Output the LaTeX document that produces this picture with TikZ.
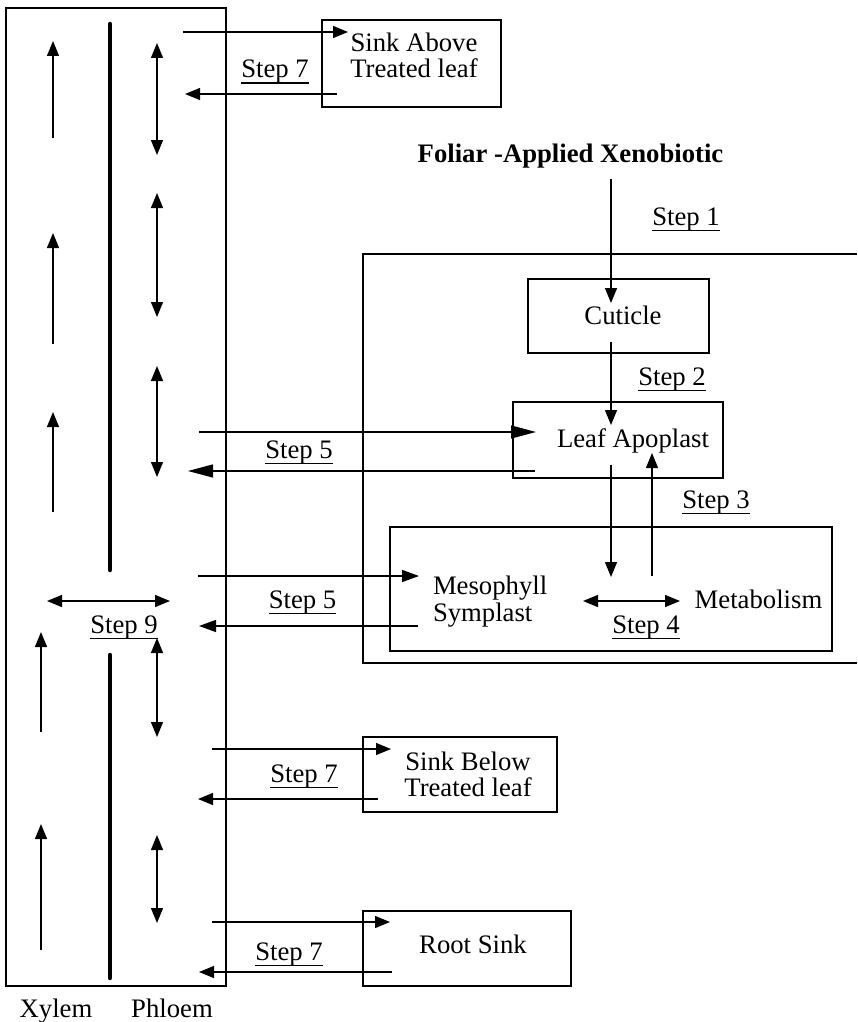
\documentclass[tikz,border=0pt]{standalone}
\usepackage{fontspec}
\setmainfont{Liberation Serif}
\usetikzlibrary{arrows.meta}
\newcommand\ulstep[1]{\setbox0\hbox{#1}\rlap{\rule[-5.8pt]{\wd0}{1.3pt}}\box0}
\begin{document}
\begin{tikzpicture}[x=1pt,y=-1pt,
  every node/.style={font=\fontsize{26.7}{27}\selectfont, inner sep=0pt, outer sep=0pt},
  box/.style={draw, line width=1.2pt},
  lbl/.style={anchor=base},
  tip/.tip={Triangle[length=15pt,width=12pt]},
  longtip/.tip={Triangle[length=25pt,width=13pt]},
  midtip/.tip={Triangle[length=17pt,width=12pt]},
  conn/.style={line width=1.3pt, -tip},
  connL/.style={line width=1.3pt, -longtip},
  connM/.style={line width=1.3pt, -midtip},
  dbl/.style={line width=1.3pt, tip-tip},
  wall/.style={line width=4.5pt, line cap=round},
  plain/.style={line width=1.2pt}]
\useasboundingbox (0,0) rectangle (857,1022);

% left transport column
\node[box, minimum width=220pt, minimum height=978pt] (col) at (116,497) {};
\coordinate (w1t) at (110,24); \coordinate (w1b) at (110,570);
\coordinate (w2t) at (110,655); \coordinate (w2b) at (110,978);
\draw[wall] (w1t) -- (w1b);
\draw[wall] (w2t) -- (w2b);

% xylem arrows
\foreach \i/\x/\a/\b in {1/53/138/41, 2/53/344/233, 3/53/512/412, 4/41/732/632, 5/41/950/824}{
  \coordinate (xs\i) at (\x,\a); \coordinate (xe\i) at (\x,\b);
  \draw[conn] (xs\i) -- (xe\i);
}
% phloem arrows
\foreach \i/\a/\b in {1/43/155, 2/193/317, 3/366/477, 4/638/737, 5/835/923}{
  \coordinate (ps\i) at (157,\a); \coordinate (pe\i) at (157,\b);
  \draw[dbl] (ps\i) -- (pe\i);
}
% step 9
\coordinate (s9a) at (47,601); \coordinate (s9b) at (170,601);
\draw[dbl] (s9a) -- (s9b);
\node[lbl] (step9) at (124,633) {\ulstep{Step 9}};

\node[lbl] (xylem) at (56,1017) {Xylem};
\node[lbl] (phloem) at (172,1017) {Phloem};

% sink above
\node[box, minimum width=179pt, minimum height=87pt] (sinkA) at (411.5,63.5) {};
\node[lbl] (sinkA1) at (414,52) {Sink Above};
\node[lbl] (sinkA2) at (414,78) {Treated leaf};
\coordinate (a7o) at (183,32); \coordinate (a7i) at (348,32);
\coordinate (a7r) at (337,94); \coordinate (a7l) at (185,94);
\draw[conn] (a7o) -- (a7i);
\draw[conn] (a7r) -- (a7l);
\node[lbl] (step7a) at (275,78) {\ulstep{Step 7}};

% foliar
\node[lbl, font=\fontsize{26.7}{27}\selectfont\bfseries] (foliar) at (570.5,162) {Foliar -Applied Xenobiotic};
\node[lbl] (step1) at (686,225) {\ulstep{Step 1}};

% leaf region (open on right)
\coordinate (lr1) at (857,254); \coordinate (lr2) at (363,254);
\coordinate (lr3) at (363,663); \coordinate (lr4) at (857,663);
\draw[plain] (lr1) -- (lr2) -- (lr3) -- (lr4);

% cuticle
\node[box, minimum width=181pt, minimum height=74pt] (cuticle) at (618.5,316) {};
\node[lbl] (cutT) at (623,324) {Cuticle};
\coordinate (f1) at (611,179); \coordinate (f2) at (611,303);
\draw[conn] (f1) -- (f2);

% leaf apoplast
\node[box, minimum width=210pt, minimum height=76pt] (apo) at (618,440) {};
\node[lbl] (apoT) at (633,447) {Leaf Apoplast};
\coordinate (c1) at (611,342); \coordinate (c2) at (611,425);
\draw[conn] (c1) -- (c2);
\node[lbl] (step2) at (672,385) {\ulstep{Step 2}};

% step 5 upper
\coordinate (u1) at (199,432); \coordinate (u2) at (536,432);
\coordinate (u3) at (535,471); \coordinate (u4) at (188,471);
\draw[connL] (u1) -- (u2);
\draw[connL] (u3) -- (u4);
\node[lbl] (step5a) at (299,458) {\ulstep{Step 5}};

% mesophyll
\node[box, minimum width=442pt, minimum height=124pt] (meso) at (611,589) {};
\node[anchor=base west] (meso1) at (433,594) {Mesophyll};
\node[anchor=base west] (meso2) at (433,621) {Symplast};
\node[lbl] (metab) at (758.5,608) {Metabolism};
\coordinate (d1) at (611,465); \coordinate (d2) at (611,577);
\coordinate (e1) at (652,576); \coordinate (e2) at (652,453);
\draw[conn] (d1) -- (d2);
\draw[conn] (e1) -- (e2);
\node[lbl] (step3) at (716,508) {\ulstep{Step 3}};
\coordinate (m1) at (583,601); \coordinate (m2) at (680,601);
\draw[dbl] (m1) -- (m2);
\node[lbl] (step4) at (646,633) {\ulstep{Step 4}};

% step 5 lower
\coordinate (l1) at (198,576); \coordinate (l2) at (419,576);
\coordinate (l3) at (418,626); \coordinate (l4) at (199,626);
\draw[connM] (l1) -- (l2);
\draw[connM] (l3) -- (l4);
\node[lbl] (step5b) at (302.5,608) {\ulstep{Step 5}};

% sink below
\node[box, minimum width=194pt, minimum height=75pt] (sinkB) at (460,774.5) {};
\node[lbl] (sinkB1) at (468,770) {Sink Below};
\node[lbl] (sinkB2) at (468,796) {Treated leaf};
\coordinate (b1) at (212,749); \coordinate (b2) at (391,749);
\coordinate (b3) at (378,799); \coordinate (b4) at (198,799);
\draw[conn] (b1) -- (b2);
\draw[conn] (b3) -- (b4);
\node[lbl] (step7b) at (304,782) {\ulstep{Step 7}};

% root sink
\node[box, minimum width=208pt, minimum height=75pt] (root) at (467,948.5) {};
\node[lbl] (rootT) at (473,953) {Root Sink};
\coordinate (r1) at (212,922); \coordinate (r2) at (390,922);
\coordinate (r3) at (392,972); \coordinate (r4) at (199,972);
\draw[conn] (r1) -- (r2);
\draw[conn] (r3) -- (r4);
\node[lbl] (step7c) at (289,960) {\ulstep{Step 7}};
\end{tikzpicture}
\end{document}
